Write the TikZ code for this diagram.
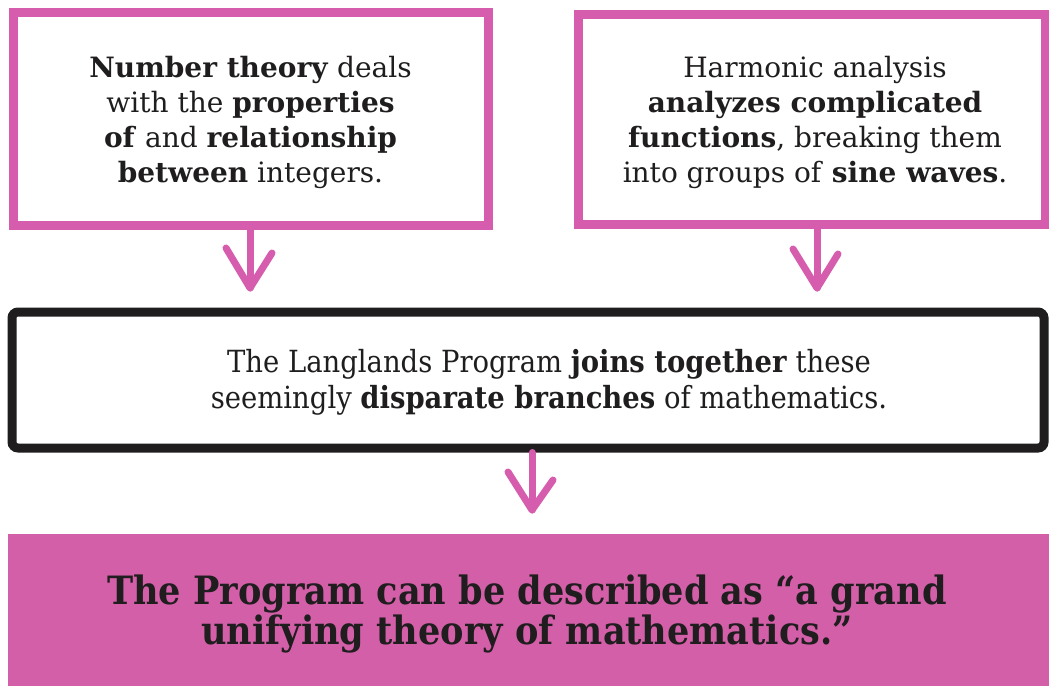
\documentclass[tikz,border=0pt]{standalone}
\usepackage{fontspec}
\setmainfont{DejaVu Serif}
\newfontfamily\slabcond{DejaVu Serif Condensed}
\definecolor{pinkline}{HTML}{D65DAE}
\definecolor{pinkfill}{HTML}{D35FA9}
\definecolor{ink}{HTML}{1F1D1E}
\begin{document}
\begin{tikzpicture}[x=1pt,y=-1pt,
  pinkbox/.style={draw=pinkline, line width=9pt, inner sep=0pt},
  boxtext/.style={inner sep=0pt, align=center, text=ink, font=\fontsize{28pt}{35pt}\selectfont},
  blackbox/.style={draw=ink, line width=9pt, rounded corners=6pt, inner sep=0pt},
  bodytext/.style={inner sep=0pt, align=center, text=ink, font=\slabcond\fontsize{30.5pt}{36pt}\selectfont},
  bandbox/.style={fill=pinkfill, inner sep=0pt},
  bandtext/.style={inner sep=0pt, align=center, text=ink,
    font=\slabcond\bfseries\fontsize{39pt}{40pt}\selectfont},
  arrowline/.style={draw=pinkline, line width=7pt, line cap=round, line join=round}
]
\useasboundingbox (0,0) rectangle (1049,686);
\fill[white] (0,0) rectangle (1049,686);

\node[pinkbox, minimum width=475pt, minimum height=213pt] (nt) at (250.5,118.5) {};
\node[boxtext] (nttext) at (250.5,122)
  {\textbf{Number theory} deals\\ with the \textbf{properties}\\ \textbf{of} and \textbf{relationship}\\ \textbf{between} integers.};

\node[pinkbox, minimum width=467pt, minimum height=210pt] (ha) at (811.5,119) {};
\node[boxtext] (hatext) at (815,122)
  {Harmonic analysis\\ \textbf{analyzes complicated}\\ \textbf{functions}, breaking them\\ into groups of \textbf{sine waves}.};

\node[blackbox, minimum width=1032pt, minimum height=136pt] (lp) at (528,380) {};
\node[bodytext] (lptext) at (549,382)
  {The Langlands Program \textbf{joins together} these\\ seemingly \textbf{disparate branches} of mathematics.};

\node[bandbox, minimum width=1041pt, minimum height=152pt] (gu) at (528.5,610) {};
\node[bandtext] (gutext) at (527,614)
  {The Program can be described as “a grand\\ unifying theory of mathematics.”};

\coordinate (tipA) at (250,288);
\coordinate (tipB) at (817,288);
\coordinate (tipC) at (532,510);

\draw[arrowline] (nt.south -| tipA) -- (tipA);
\draw[arrowline] ([shift={(-24,-40)}]tipA) -- (tipA) -- ([shift={(22,-35)}]tipA);
\draw[arrowline] (ha.south -| tipB) -- (tipB);
\draw[arrowline] ([shift={(-24,-39)}]tipB) -- (tipB) -- ([shift={(21,-34)}]tipB);
\draw[arrowline] (lp.south -| tipC) -- (tipC);
\draw[arrowline] ([shift={(-24,-38)}]tipC) -- (tipC) -- ([shift={(21,-30)}]tipC);
\end{tikzpicture}
\end{document}
